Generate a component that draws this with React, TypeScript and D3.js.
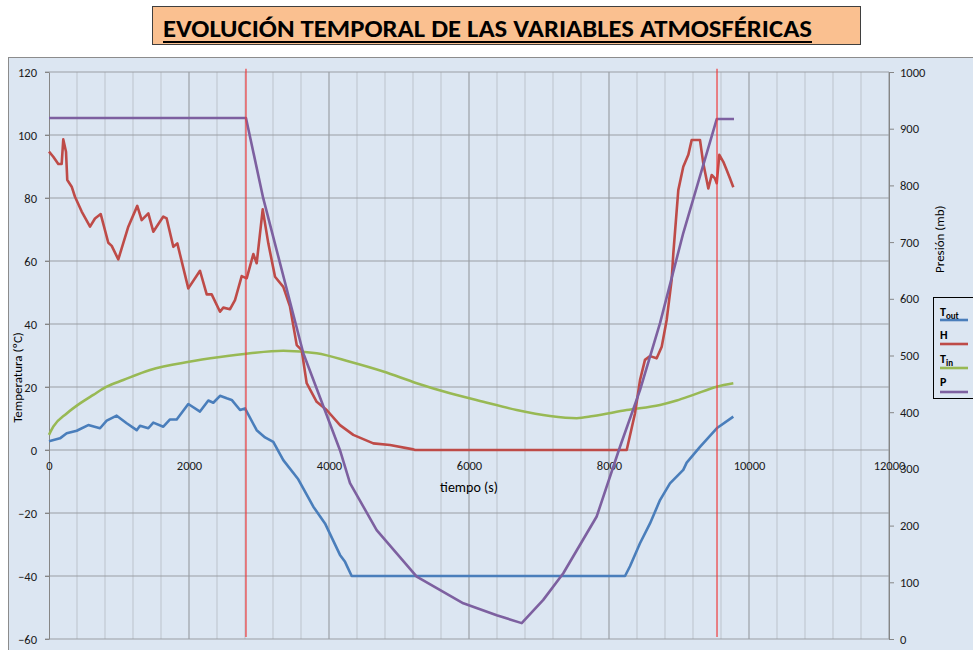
import React, { useRef, useEffect } from "react";
import * as d3 from "d3";

// ticks
const tiempoTicks = [0, 2000, 4000, 6000, 8000, 10000, 12000];
const tiempoMinor = d3.range(0, 12001, 400);
const tempTicks = [-60, -40, -20, 0, 20, 40, 60, 80, 100, 120];
const presTicks = [0, 100, 200, 300, 400, 500, 600, 700, 800, 900, 1000];
// red vertical markers (s)
const marcas = [2814, 9543];

// [tiempo (s), valor]
const tOut: [number, number][] = [
  [0, 2.8], [157, 3.7], [253, 5.3], [396, 6.1], [561, 7.9], [729, 6.9], [824, 9.3],
  [967, 10.9], [1110, 8.5], [1253, 6.3], [1300, 7.7], [1419, 6.9], [1490, 8.7],
  [1633, 7.4], [1729, 9.7], [1824, 9.7], [1990, 14.6], [2157, 12.2], [2276, 15.7],
  [2347, 15.0], [2443, 17.2], [2539, 16.4], [2610, 15.9], [2729, 12.7], [2800, 13.2],
  [2967, 6.3], [3086, 4.0], [3204, 2.6], [3347, -3.2], [3561, -9.3], [3776, -18.0],
  [3943, -23.3], [4157, -33.3], [4229, -35.5], [4324, -40], [8229, -40], [8300, -36.9],
  [8443, -29.6], [8586, -23.3], [8729, -15.9], [8871, -10.6], [9061, -6.3],
  [9110, -4.0], [9300, 1.0], [9539, 6.9], [9776, 10.6],
];

const humedad: [number, number][] = [
  [0, 94.7], [61, 93.1], [133, 90.8], [181, 90.8], [204, 98.6], [243, 94.7], [261, 85.7],
  [324, 83.6], [371, 80.4], [467, 75.7], [586, 70.9], [657, 73.5], [739, 74.9],
  [847, 65.8], [896, 64.8], [990, 60.5], [1133, 70.9], [1261, 77.5], [1324, 73.0],
  [1419, 75.1], [1490, 69.3], [1633, 74.1], [1681, 73.5], [1776, 64.5], [1833, 65.6],
  [1990, 51.3], [2157, 56.9], [2253, 49.4], [2324, 49.4], [2443, 43.9], [2490, 45.2],
  [2586, 44.7], [2657, 47.6], [2753, 55.2], [2824, 54.5], [2919, 62.2], [2967, 59.3],
  [3053, 76.4], [3133, 65.6], [3229, 55.0], [3347, 51.8], [3443, 45.5], [3539, 33.3],
  [3610, 31.7], [3681, 21.2], [3824, 15.3], [3967, 12.7], [4157, 7.9], [4347, 4.8],
  [4633, 2.1], [4871, 1.6], [5204, 0.2], [5229, 0], [8253, 0], [8371, 11.6],
  [8443, 22.2], [8514, 28.6], [8586, 29.8], [8681, 29.1], [8753, 32.8], [8824, 41.3],
  [8895, 54], [8919, 62.4], [8990, 82.5], [9061, 89.9], [9133, 93.7], [9181, 98.4],
  [9300, 98.4], [9347, 91], [9419, 83], [9467, 87.3], [9514, 86.2], [9539, 84.7],
  [9576, 93.7], [9633, 91.5], [9681, 88.9], [9729, 86.2], [9776, 83.4],
];

const tIn: [number, number][] = [
  [0, 4.8], [61, 7.4], [253, 11.6], [443, 14.8], [633, 17.5], [824, 20.1], [1061, 22.2],
  [1443, 25.4], [2000, 28], [2443, 29.5], [2871, 30.7], [3347, 31.5], [3824, 30.7],
  [4300, 28], [4776, 24.9], [5253, 21.2], [5729, 18.0], [6204, 15.3], [6681, 12.7],
  [7157, 10.8], [7539, 10.1], [7776, 10.8], [8253, 12.7], [8729, 14.3], [8967, 15.7],
  [9204, 17.5], [9539, 20.1], [9776, 21.2],
];

const presion: [number, number][] = [
  [0, 919], [2814, 919], [3061, 777], [3633, 504], [4157, 333], [4300, 275],
  [4681, 192], [5253, 110], [5919, 63], [6396, 42], [6753, 28], [7061, 69],
  [7347, 116], [7824, 216], [8157, 339], [8443, 439], [8729, 557], [9061, 716],
  [9539, 917], [9786, 917],
];

const FONT = "Carlito, Calibri, Lato, sans-serif";

const App = () => {
  const graphRef = useRef<SVGSVGElement>(null);

  useEffect(() => {
    const width = 973;
    const height = 650;
    const svg = d3.select(graphRef.current).attr("width", width).attr("height", height);
    svg.selectAll("*").remove();

    const margin = { top: 72, right: 84, bottom: 11, left: 49 };
    const innerW = width - margin.left - margin.right;
    const innerH = height - margin.top - margin.bottom;

    const xScale = d3.scaleLinear().domain([0, 12000]).range([margin.left, margin.left + innerW]);
    const yT = d3.scaleLinear().domain([-60, 120]).range([margin.top + innerH, margin.top]);
    const yP = d3.scaleLinear().domain([0, 1000]).range([margin.top + innerH, margin.top]);

    // chart area
    svg.append("rect")
      .attr("x", 8.5).attr("y", 57.5).attr("width", 980).attr("height", 620)
      .attr("fill", "#dce6f2").attr("stroke", "#8c8c8c");

    // title
    svg.append("rect")
      .attr("x", 152.5).attr("y", 6.5).attr("width", 708).attr("height", 38)
      .attr("fill", "#fac090").attr("stroke", "#3f3f3f");
    svg.append("text")
      .attr("x", 163).attr("y", 37)
      .attr("textLength", 649).attr("lengthAdjust", "spacingAndGlyphs")
      .attr("font-family", FONT).attr("font-weight", "bold").attr("font-size", 25)
      .attr("fill", "#000")
      .text("EVOLUCIÓN TEMPORAL DE LAS VARIABLES ATMOSFÉRICAS");
    svg.append("line")
      .attr("x1", 163).attr("x2", 812).attr("y1", 42).attr("y2", 42)
      .attr("stroke", "#000").attr("stroke-width", 2);

    const g = svg.append("g");

    // grid
    g.selectAll(".minor")
      .data(tiempoMinor.filter((d) => d % 2000 !== 0))
      .enter().append("line")
      .attr("x1", (d) => xScale(d)).attr("x2", (d) => xScale(d))
      .attr("y1", yT(120)).attr("y2", yT(-60))
      .attr("stroke", "#bcc3cc").attr("stroke-width", 1);
    g.selectAll(".major")
      .data(tiempoTicks.slice(1))
      .enter().append("line")
      .attr("x1", (d) => xScale(d)).attr("x2", (d) => xScale(d))
      .attr("y1", yT(120)).attr("y2", yT(-60))
      .attr("stroke", "#8e9297").attr("stroke-width", 1);
    g.selectAll(".hgrid")
      .data(tempTicks)
      .enter().append("line")
      .attr("x1", xScale(0) - 4).attr("x2", xScale(12000))
      .attr("y1", (d) => yT(d)).attr("y2", (d) => yT(d))
      .attr("stroke", "#9a9ea3").attr("stroke-width", 1.2);

    const styleAxis = (sel: any, size: number) => {
      sel.selectAll("text").attr("font-family", FONT).attr("font-size", size).attr("fill", "#1a1a1a");
      sel.selectAll("line").attr("stroke", "#868686");
      sel.select(".domain").attr("stroke", "#868686");
    };

    const yAxisG = g.append("g")
      .attr("transform", `translate(${margin.left},0)`)
      .call(d3.axisLeft(yT).tickValues(tempTicks).tickSize(4).tickSizeOuter(0).tickPadding(8));
    styleAxis(yAxisG, 12.5);

    const pAxisG = g.append("g")
      .attr("transform", `translate(${margin.left + innerW},0)`)
      .call(
        d3.axisRight(yP).tickValues(presTicks).tickSize(5).tickSizeOuter(0).tickPadding(6)
          .tickFormat(d3.format("d"))
      );
    styleAxis(pAxisG, 12.5);

    const xAxisG = g.append("g")
      .attr("transform", `translate(0,${yT(0)})`)
      .call(d3.axisBottom(xScale).tickValues(tiempoTicks).tickSize(0).tickPadding(11).tickFormat(d3.format("d")));
    xAxisG.select(".domain").remove();
    styleAxis(xAxisG, 12.5);

    // axis titles
    g.append("text")
      .attr("transform", `translate(22,${yT(23)}) rotate(-90)`)
      .attr("text-anchor", "middle")
      .attr("font-family", FONT).attr("font-size", 13)
      .text("Temperatura (ºC)");
    g.append("text")
      .attr("transform", `translate(944,${yP(705)}) rotate(-90)`)
      .attr("text-anchor", "middle")
      .attr("font-family", FONT).attr("font-size", 13)
      .text("Presión (mb)");
    g.append("text")
      .attr("x", xScale(6000)).attr("y", yT(0) + 42)
      .attr("text-anchor", "middle")
      .attr("font-family", FONT).attr("font-size", 14)
      .text("tiempo (s)");

    // series
    const lineT = d3.line<[number, number]>().x((d) => xScale(d[0])).y((d) => yT(d[1]));
    const lineTs = d3.line<[number, number]>().x((d) => xScale(d[0])).y((d) => yT(d[1]))
      .curve(d3.curveMonotoneX);
    const lineP = d3.line<[number, number]>().x((d) => xScale(d[0])).y((d) => yP(d[1]));

    const series = [
      { data: tIn, gen: lineTs, color: "#98b954" },
      { data: tOut, gen: lineT, color: "#4a7ebb" },
      { data: humedad, gen: lineT, color: "#be4b48" },
      { data: presion, gen: lineP, color: "#7d60a0" },
    ];
    g.selectAll(".line-path")
      .data(series)
      .enter().append("path")
      .attr("class", "line-path")
      .attr("fill", "none")
      .attr("stroke-width", 2.6)
      .attr("stroke-linejoin", "round")
      .attr("stroke", (d) => d.color)
      .attr("d", (d) => d.gen(d.data));

    // markers
    g.selectAll(".marca")
      .data(marcas)
      .enter().append("line")
      .attr("x1", (d) => xScale(d)).attr("x2", (d) => xScale(d))
      .attr("y1", yT(121)).attr("y2", yT(-59.4))
      .attr("stroke", "#ee3b3b").attr("stroke-width", 1.2);

    // legend
    const legend = svg.append("g").attr("transform", "translate(933,297)");
    legend.append("rect")
      .attr("x", 0.5).attr("y", 0.5).attr("width", 60).attr("height", 101)
      .attr("fill", "#dce6f2").attr("stroke", "#000");
    const items = [
      { name: "T", sub: "out", color: "#4a7ebb", ty: 19, ly: 23 },
      { name: "H", sub: "", color: "#be4b48", ty: 42, ly: 47 },
      { name: "T", sub: "in", color: "#98b954", ty: 66, ly: 71 },
      { name: "P", sub: "", color: "#7d60a0", ty: 89, ly: 95 },
    ];
    items.forEach((it) => {
      const t = legend.append("text")
        .attr("x", 7).attr("y", it.ty)
        .attr("font-family", FONT).attr("font-weight", "bold").attr("font-size", 12);
      t.append("tspan").text(it.name);
      if (it.sub) t.append("tspan").attr("dy", 3).attr("font-size", 9).text(it.sub);
      legend.append("line")
        .attr("x1", 7).attr("x2", 35).attr("y1", it.ly).attr("y2", it.ly)
        .attr("stroke", it.color).attr("stroke-width", 2.6);
    });
  }, []);

  return (
    <svg
      ref={graphRef}
      width={973}
      height={650}
      style={{ position: "absolute", left: 0, top: 0, display: "block" }}
    ></svg>
  );
};

export default App;
